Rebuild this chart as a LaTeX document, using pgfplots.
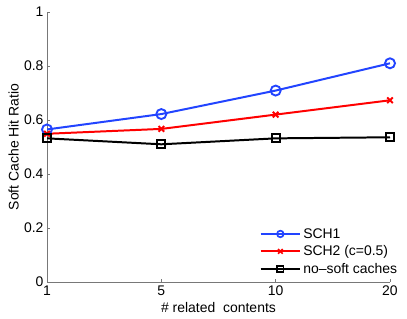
\documentclass[border=0pt]{standalone}
\usepackage{pgfplots}
\pgfplotsset{compat=1.18}
\usepackage{fontspec}
\setmainfont{Liberation Sans}
\definecolor{schblue}{RGB}{34,68,255}
\definecolor{axgray}{RGB}{120,120,120}
\begin{document}
\begin{tikzpicture}
\begin{axis}[
  scale only axis, width=343bp, height=270bp,
  xmin=0, xmax=3, ymin=0, ymax=1,
  xtick={0,1,2,3}, xticklabels={1,5,10,20},
  ytick={0,0.2,0.4,0.6,0.8,1},
  yticklabels={0,0.2,0.4,0.6,0.8,1},
  axis x line*=bottom, axis y line*=left,
  axis line style={axgray, line width=0.6pt, -},
  tick style={axgray, line width=0.6pt},
  tick align=inside, major tick length=3bp,
  ticklabel style={font=\fontsize{14}{16}\selectfont, black},
  /pgf/number format/assume math mode=true,
  xlabel={\# related\ \ contents},
  ylabel={Soft Cache Hit Ratio},
  label style={font=\fontsize{14}{16}\selectfont},
  xlabel style={at={(axis description cs:0.5,-0.093)}, anchor=center},
  ylabel style={at={(axis description cs:-0.097,0.5)}, anchor=center, rotate=0},
  legend style={draw=none, fill=none, at={(rel axis cs:1.03,0.015)}, anchor=south east,
    font=\fontsize{14}{16}\selectfont, row sep=2bp, inner sep=1bp},
  legend cell align=left,
  legend image code/.code={\draw[line width=2.2pt, mark repeat=2, mark phase=2, mark size=3.3bp, mark options={line width=1.7pt}] plot coordinates {(0cm,0cm)(0.7cm,0cm)(1.4cm,0cm)};},
]
\addplot[schblue, line width=2pt, mark=o, mark size=5bp, mark options={line width=1.9pt}]
  coordinates {(0,0.565) (1,0.622) (2,0.709) (3,0.810)};
\addlegendentry{SCH1}
\addplot[red, line width=2pt, mark=x, mark size=4bp, mark options={line width=1.9pt}]
  coordinates {(0,0.549) (1,0.567) (2,0.620) (3,0.673)};
\addlegendentry{SCH2 (c=0.5)}
\addplot[black, line width=2pt, mark=square, mark size=4bp, mark options={line width=1.9pt}]
  coordinates {(0,0.532) (1,0.510) (2,0.532) (3,0.536)};
\addlegendentry{no{\textendash}soft caches}
\coordinate (ll) at (rel axis cs:0,0);
\coordinate (ur) at (rel axis cs:1,1);
\end{axis}
\pgfresetboundingbox
\path ([shift={(-47bp,-37bp)}]ll) rectangle ([shift={(17bp,12bp)}]ur);
\end{tikzpicture}
\end{document}
